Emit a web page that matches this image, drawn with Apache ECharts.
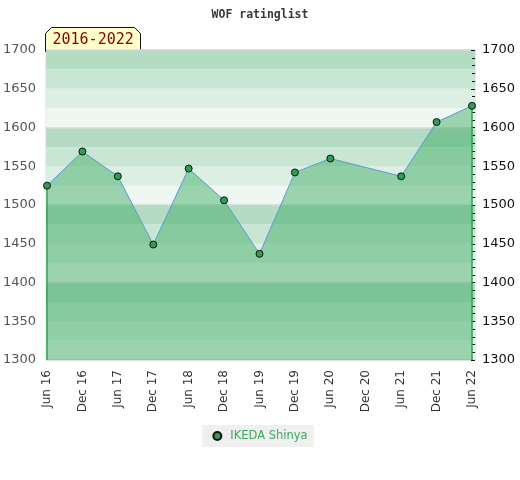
<!DOCTYPE html>
<html>
<head>
<meta charset="utf-8">
<script src="https://cdn.jsdelivr.net/npm/echarts@6/dist/echarts.min.js"></script>
<style>html,body{margin:0;padding:0;background:#fff;}#c{width:520px;height:480px;}</style>
</head>
<body>
<div id="c"></div>
<script>
const categories = ['Jun 16','Dec 16','Jun 17','Dec 17','Jun 18','Dec 18','Jun 19','Dec 19','Jun 20','Dec 20','Jun 21','Dec 21','Jun 22'];
const ratings = [1525,1569,1537,1449,1547,1506,1437,1542,1560,null,1537,1607,1628];
const seriesName = 'IKEDA Shinya';
const titleText = 'WOF ratinglist';
const periodLabel = '2016-2022';
const yMin = 1300, yMax = 1700;
const bandColors = ['#eff7f2','#dcefe3','#c9e6d4','#b3dcc2'];

const chart = echarts.init(document.getElementById('c'), null, {renderer:'canvas'});
const lastIdx = categories.length - 1;
const fmt50 = v => (v % 50 === 0 ? String(v) : '');

chart.setOption({
  backgroundColor: '#ffffff',
  animation: false,
  title: {
    text: titleText, left: 'center', top: 4,
    textStyle: {fontFamily: 'DejaVu Sans Mono', fontSize: 11.5, fontWeight: 'bold', color: '#3a3a3a'}
  },
  legend: {
    top: 425, left: 'center',
    data: [seriesName],
    icon: 'circle', itemWidth: 8, itemHeight: 8, itemGap: 10,
    backgroundColor: '#efefef', padding: [5, 6, 5, 10],
    textStyle: {color: '#3daa5a', fontFamily: 'DejaVu Sans', fontSize: 11.5, padding: [0,0,0,4]}
  },
  grid: [
    {left: 47, right: 48, top: 50, bottom: 120},
    {left: 45, right: 45, top: 50, bottom: 120, show: true, borderColor: '#d6d6d6', borderWidth: 1, backgroundColor: 'transparent'}
  ],
  xAxis: [
    {
      type: 'category', gridIndex: 0, data: categories, boundaryGap: false,
      axisLine: {show: false}, axisTick: {show: false}, splitLine: {show: false},
      axisLabel: {rotate: 90, interval: 0, margin: 10, color: '#333', fontFamily: 'DejaVu Sans', fontSize: 12}
    },
    {type: 'value', gridIndex: 1, show: false, min: 0, max: 1}
  ],
  yAxis: [
    {type: 'value', gridIndex: 0, min: yMin, max: yMax, show: false},
    {
      type: 'value', gridIndex: 1, position: 'left', min: yMin, max: yMax, interval: 25,
      axisLine: {show: false}, axisTick: {show: false}, splitLine: {show: false},
      splitArea: {show: true, areaStyle: {color: bandColors, opacity: 1}},
      axisLabel: {formatter: fmt50, margin: 10, color: '#555', fontFamily: 'DejaVu Sans', fontSize: 13}
    },
    {
      type: 'value', gridIndex: 1, position: 'right', min: yMin, max: yMax, interval: 50,
      axisLine: {show: false},
      axisTick: {show: true, inside: true, length: 4, lineStyle: {color: '#111'}},
      minorTick: {show: true, splitNumber: 5, length: 3, lineStyle: {color: '#111'}},
      splitLine: {show: false},
      axisLabel: {formatter: v => String(v), margin: 7, color: '#111', fontFamily: 'DejaVu Sans', fontSize: 13}
    },
    {
      type: 'value', gridIndex: 1, position: 'left', min: yMin, max: yMax, interval: 100,
      axisLine: {show: false}, axisTick: {show: false}, axisLabel: {show: false},
      splitLine: {show: true, lineStyle: {color: '#d8d8d8', width: 1.5}}
    }
  ],
  series: [{
    name: seriesName, type: 'line', xAxisIndex: 0, yAxisIndex: 0,
    data: ratings, connectNulls: true,
    symbol: 'circle', symbolSize: 7, showSymbol: true,
    itemStyle: {color: '#2e9e55', borderColor: '#111', borderWidth: 1},
    lineStyle: {color: '#5b9bd5', width: 1},
    areaStyle: {color: 'rgba(60,169,98,0.47)', opacity: 1, origin: 'start'},
    markLine: {
      silent: true, symbol: 'none', label: {show: false},
      lineStyle: {color: '#22a34a', width: 1.5, type: 'solid'},
      data: [
        [{coord: [categories[0], yMin]}, {coord: [categories[0], ratings[0]]}],
        [{coord: [categories[lastIdx], yMin]}, {coord: [categories[lastIdx], ratings[lastIdx]]}]
      ]
    },
    z: 5
  }],
  graphic: [{
    type: 'group', left: 45, top: 27, z: 100,
    children: [
      {type: 'polygon', shape: {points: [[0,24],[0,6],[6,0],[89,0],[95,6],[95,24]]},
        style: {fill: '#ffffcc', stroke: '#111', lineWidth: 1}},
      {type: 'text', left: 7, top: 5,
        style: {text: periodLabel, fill: '#8b0000', font: '15px "DejaVu Sans Mono"'}}
    ]
  }]
});
</script>
</body>
</html>
